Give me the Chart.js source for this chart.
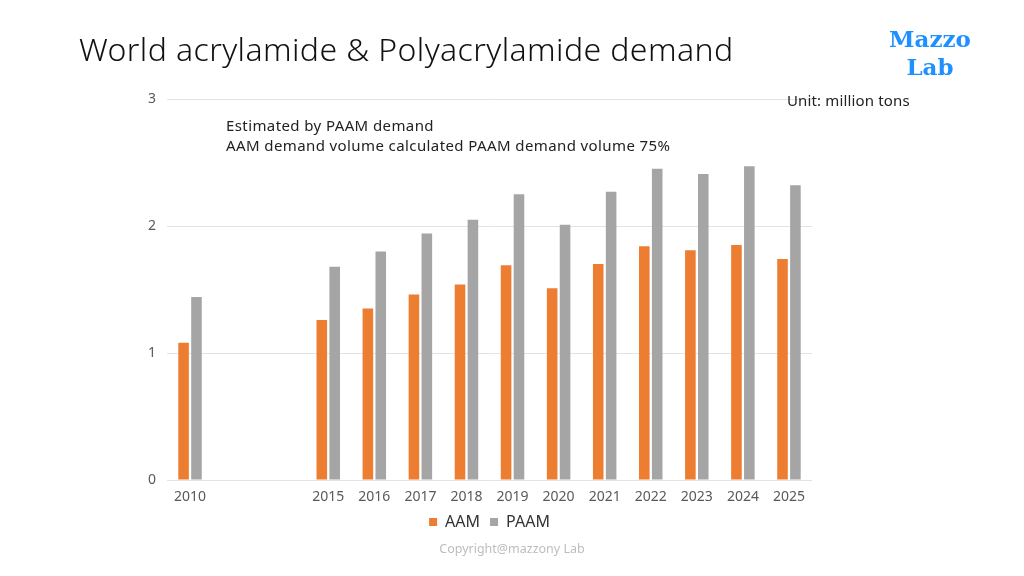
<!DOCTYPE html>
<html>
<head>
<meta charset="utf-8">
<script src="https://cdn.jsdelivr.net/npm/chart.js@4.4.1/dist/chart.umd.min.js"></script>
<style>
    html, body { margin: 0; padding: 0; background: #fff; }
    #wrap { position: relative; width: 1024px; height: 576px; overflow: hidden; font-family: "Noto Sans", sans-serif; }
    #chart { position: absolute; left: 0; top: 0; }
    .txt { position: absolute; white-space: nowrap; }
    #title { left: 79px; top: 27px; font-size: 32px; font-weight: 300; letter-spacing: 0.4px; color: #111; }
    #note { left: 226px; top: 115px; font-size: 15px; line-height: 20px; letter-spacing: 0.4px; color: #222; }
    #unit { left: 787px; top: 90px; font-size: 15px; letter-spacing: 0.15px; color: #222; }
    #logo { left: 870px; top: 25px; width: 120px; text-align: center; font-family: "DejaVu Serif", serif; font-weight: bold; font-size: 23px; line-height: 28px; color: #1e90ff; }
    #copy { left: 412px; top: 540px; width: 200px; text-align: center; font-size: 12.5px; color: #bdbdbd; }
</style>
</head>
<body>
<div id="wrap">
    <canvas id="chart" width="1024" height="576"></canvas>
    <div class="txt" id="title">World acrylamide &amp; Polyacrylamide demand</div>
    <div class="txt" id="note">Estimated by PAAM demand<br>AAM demand volume calculated PAAM demand volume 75%</div>
    <div class="txt" id="unit">Unit: million tons</div>
    <div class="txt" id="logo">Mazzo<br>Lab</div>
    <div class="txt" id="copy">Copyright@mazzony Lab</div>
</div>
<script>
    // Anos (duas posições vazias entre 2010 e 2015, como no original)
    const years = ['2010', '', '', '2015', '2016', '2017', '2018', '2019', '2020', '2021', '2022', '2023', '2024', '2025'];
    const aam = [1.08, null, null, 1.26, 1.35, 1.46, 1.54, 1.69, 1.51, 1.70, 1.84, 1.81, 1.85, 1.74];
    const paam = [1.44, null, null, 1.68, 1.80, 1.94, 2.05, 2.25, 2.01, 2.27, 2.45, 2.41, 2.47, 2.32];
    const yTicks = [0, 1, 2, 3];

    Chart.defaults.font.family = '"Noto Sans", sans-serif';
    Chart.defaults.animation = false;

    let ctx = document.getElementById('chart').getContext('2d');
    new Chart(ctx, {
        type: 'bar',
        data: {
            labels: years,
            datasets: [{
                label: 'AAM',
                data: aam,
                backgroundColor: '#ed7d31',
                borderWidth: 0,
                categoryPercentage: 0.56,
                barPercentage: 0.82
            }, {
                label: 'PAAM',
                data: paam,
                backgroundColor: '#a5a5a5',
                borderWidth: 0,
                categoryPercentage: 0.56,
                barPercentage: 0.82
            }]
        },
        options: {
            responsive: false,
            layout: {
                padding: { left: 127, right: 212, top: 99, bottom: 36 }
            },
            plugins: {
                legend: {
                    position: 'bottom',
                    fullSize: false,
                    labels: {
                        boxWidth: 8,
                        boxHeight: 8,
                        padding: 10,
                        color: '#333',
                        font: { size: 16 }
                    }
                },
                tooltip: { enabled: false }
            },
            scales: {
                x: {
                    grid: { display: false, drawTicks: false },
                    border: { display: false },
                    ticks: { color: '#595959', font: { size: 14 }, padding: 9, maxRotation: 0, autoSkip: false },
                    afterFit: s => { s.height = 24; }
                },
                y: {
                    min: 0,
                    max: 3,
                    afterBuildTicks: s => { s.ticks = yTicks.map(v => ({ value: v })); },
                    grid: { color: '#e3e3e3', drawTicks: false },
                    border: { display: false },
                    ticks: { color: '#595959', font: { size: 14 }, padding: 11 },
                    afterFit: s => { s.width = 40; }
                }
            }
        }
    });
</script>
</body>
</html>
